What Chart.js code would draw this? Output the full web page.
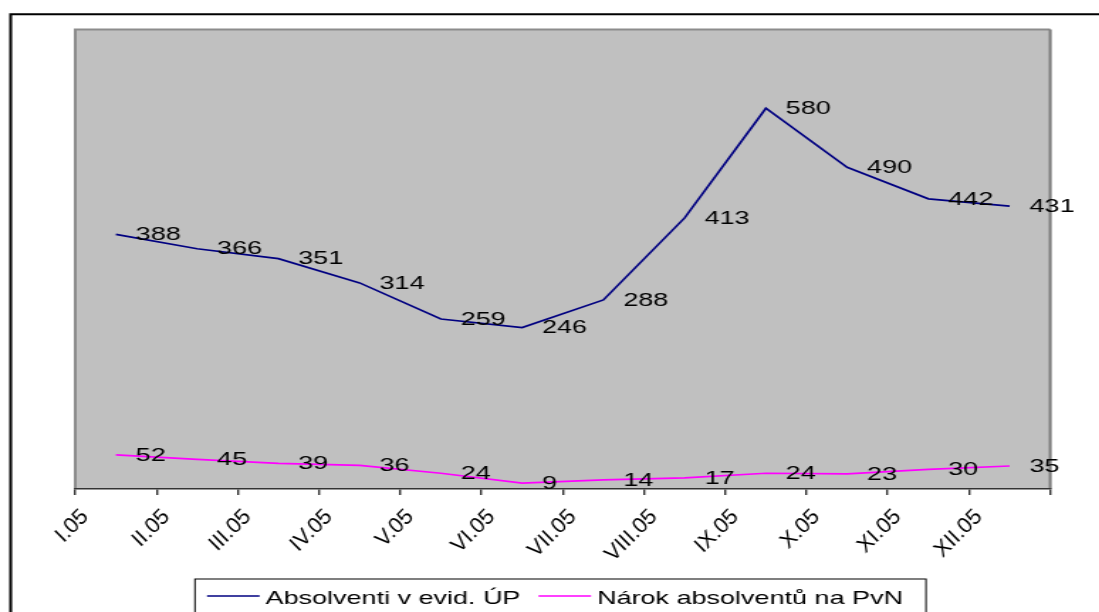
<!DOCTYPE html>
<html>
<head>
<meta charset="utf-8">
<script src="https://cdn.jsdelivr.net/npm/chart.js@4.4.1/dist/chart.umd.min.js"></script>
<style>
  html, body { margin: 0; padding: 0; background: #fff; overflow: hidden; }
  /* the chart is drawn narrow and widened, as the exported sheet chart is */
  #wrap { position: absolute; left: 0; top: 0; width: 774px; height: 612px;
          transform: scaleX(1.42); transform-origin: 0 0; }
  canvas { display: block; }
</style>
</head>
<body>
<div id="wrap"><canvas id="c" width="774" height="612"></canvas></div>
<script>
// Months of 2005
const months = ['I.05', 'II.05', 'III.05', 'IV.05', 'V.05', 'VI.05',
                'VII.05', 'VIII.05', 'IX.05', 'X.05', 'XI.05', 'XII.05'];
// Graduates registered at the labour office
const absolventi = [388, 366, 351, 314, 259, 246, 288, 413, 580, 490, 442, 431];
// Graduates entitled to unemployment benefit
const narok = [52, 45, 39, 36, 24, 9, 14, 17, 24, 23, 30, 35];
const seriesNames = ['Absolventi v evid. ÚP', 'Nárok absolventů na PvN'];
const seriesColors = ['#000080', '#FF00FF'];

const FONT = "'Liberation Sans', Arial, Helvetica, sans-serif";
const SX = 1.42; // horizontal widening applied by the wrapper

// Page frame, grey plot area and its border
const backdrop = {
  id: 'backdrop',
  beforeDraw(chart) {
    const ctx = chart.ctx, a = chart.chartArea;
    ctx.save();
    ctx.fillStyle = '#ffffff';
    ctx.fillRect(0, 0, chart.width, chart.height);
    // outer frame (top and left edges)
    ctx.strokeStyle = '#000000';
    ctx.lineWidth = 2;
    ctx.beginPath();
    ctx.moveTo(7.5, chart.height + 5);
    ctx.lineTo(7.5, 14.2);
    ctx.lineTo(chart.width + 5, 14.2);
    ctx.stroke();
    // plot area
    ctx.fillStyle = '#C0C0C0';
    ctx.fillRect(a.left, a.top, a.right - a.left, a.bottom - a.top);
    ctx.lineWidth = 2;
    ctx.strokeStyle = '#8c8c8c';
    ctx.beginPath();
    ctx.moveTo(a.left, a.bottom);
    ctx.lineTo(a.left, a.top);
    ctx.lineTo(a.right, a.top);
    ctx.stroke();
    ctx.strokeStyle = '#7a7a7a';
    ctx.beginPath();
    ctx.moveTo(a.right, a.top);
    ctx.lineTo(a.right, a.bottom);
    ctx.stroke();
    ctx.restore();
  }
};

// Value labels to the right of each point
const valueLabels = {
  id: 'valueLabels',
  afterDatasetsDraw(chart) {
    const ctx = chart.ctx;
    ctx.save();
    ctx.font = '19px ' + FONT;
    ctx.fillStyle = '#000000';
    ctx.textAlign = 'left';
    ctx.textBaseline = 'middle';
    chart.data.datasets.forEach((ds, di) => {
      const meta = chart.getDatasetMeta(di);
      meta.data.forEach((pt, i) => {
        ctx.fillText(String(ds.data[i]), pt.x + 14, pt.y + 0.5);
      });
    });
    ctx.restore();
  }
};

// Month names at 45 degrees, ending just right of each tick mark,
// kept at their natural width despite the widening
const monthLabels = {
  id: 'monthLabels',
  afterDraw(chart) {
    const sc = chart.scales.x;
    const ctx = chart.ctx;
    const half = (sc.getPixelForTick(1) - sc.getPixelForTick(0)) / 2;
    ctx.save();
    ctx.font = '22px ' + FONT;
    ctx.fillStyle = '#000000';
    ctx.textAlign = 'right';
    ctx.textBaseline = 'middle';
    chart.data.labels.forEach((lab, i) => {
      const x = sc.getPixelForTick(i) - half + 9.8 / SX;
      ctx.save();
      ctx.translate(x, sc.top + 24.2);
      ctx.scale(1 / SX, 1);
      ctx.rotate(-Math.PI / 4);
      ctx.fillText(lab, 0, 0);
      ctx.restore();
    });
    ctx.restore();
  }
};

// Boxed legend below the axis
const boxLegend = {
  id: 'boxLegend',
  afterDraw(chart) {
    const ctx = chart.ctx;
    const left = 137.3, right = 652.1, top = 579;
    ctx.save();
    ctx.strokeStyle = '#000000';
    ctx.lineWidth = 1;
    ctx.strokeRect(left, top, right - left, 60);
    ctx.font = '19px ' + FONT;
    ctx.textBaseline = 'alphabetic';
    ctx.textAlign = 'left';
    let x = left + 8.5;
    chart.data.datasets.forEach((ds) => {
      ctx.strokeStyle = ds.borderColor;
      ctx.lineWidth = 1.5;
      ctx.beginPath();
      ctx.moveTo(x, 596);
      ctx.lineTo(x + 37, 596);
      ctx.stroke();
      x += 37 + 4.2;
      ctx.fillStyle = '#000000';
      ctx.fillText(ds.label, x, 603.5);
      x += ctx.measureText(ds.label).width + 12.7;
    });
    ctx.restore();
  }
};

new Chart(document.getElementById('c'), {
  type: 'line',
  data: {
    labels: months,
    datasets: [
      { label: seriesNames[0], data: absolventi, borderColor: seriesColors[0],
        borderWidth: 1.7, pointRadius: 0, tension: 0, fill: false },
      { label: seriesNames[1], data: narok, borderColor: seriesColors[1],
        borderWidth: 1.7, pointRadius: 0, tension: 0, fill: false }
    ]
  },
  options: {
    responsive: false,
    animation: false,
    devicePixelRatio: 1,
    layout: { padding: { left: 53, right: 34.4, top: 29.5, bottom: 33 } },
    plugins: { legend: { display: false }, tooltip: { enabled: false } },
    scales: {
      x: {
        type: 'category',
        offset: true,
        grid: { offset: true, drawOnChartArea: false, drawTicks: true,
                tickLength: 6, color: '#333333', lineWidth: 1.4 },
        border: { display: true, color: '#333333', width: 1.5 },
        ticks: { display: false, autoSkip: false },
        afterFit(scale) { scale.height = 90; }
      },
      y: { display: false, min: 0, max: 700 }
    }
  },
  plugins: [backdrop, valueLabels, monthLabels, boxLegend]
});
</script>
</body>
</html>
